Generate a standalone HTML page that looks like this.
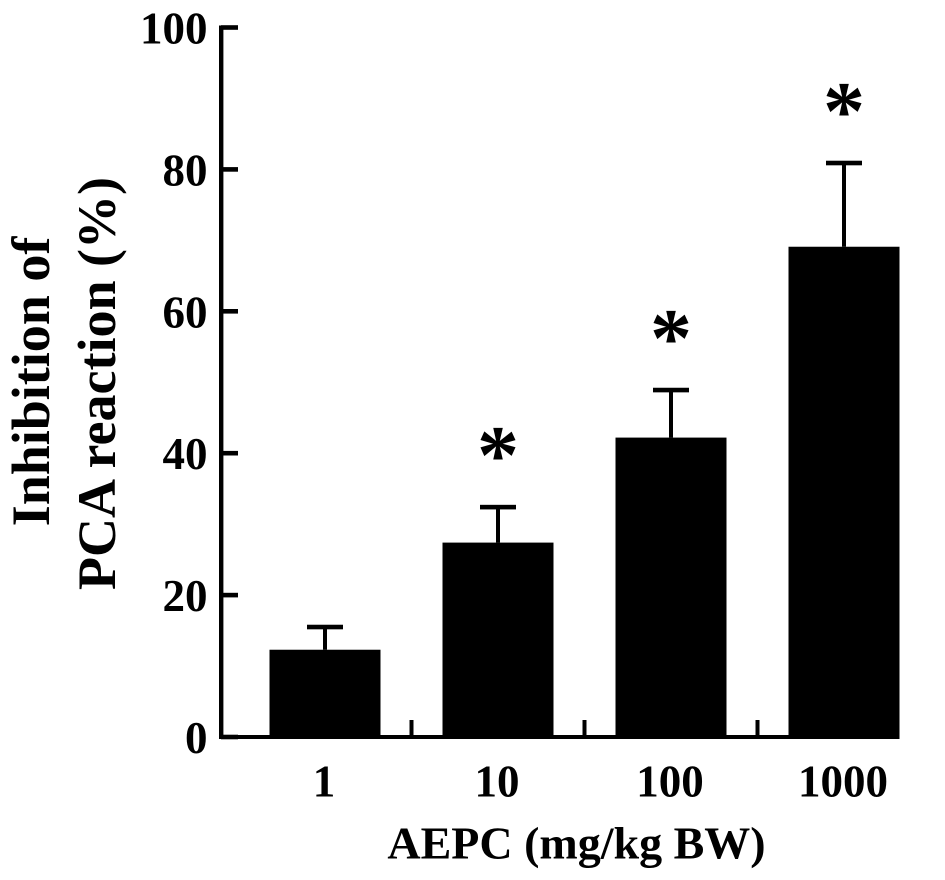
<!DOCTYPE html>
<html>
<head>
<meta charset="utf-8">
<style>
html,body{margin:0;padding:0;background:#fff;}
svg{display:block;}
text{font-family:"Liberation Serif",serif;font-weight:bold;fill:#000;}
</style>
</head>
<body>
<svg id="chart" width="945" height="880" viewBox="0 0 945 880" xmlns="http://www.w3.org/2000/svg">
<text transform="translate(49,381.5) rotate(-90)" text-anchor="middle" font-size="54">Inhibition of</text>
<text transform="translate(115,383.5) rotate(-90)" text-anchor="middle" font-size="54">PCA reaction (%)</text>
<text x="576.5" y="858.5" text-anchor="middle" font-size="46">AEPC (mg/kg BW)</text>
</svg>
<script>
const categories = ['1', '10', '100', '1000'];
const means = [12.3, 27.4, 42.2, 69.1];
const errorTops = [15.5, 32.4, 48.9, 80.9];
const significant = [false, true, true, true];
const yTickLabels = [0, 20, 40, 60, 80, 100];

const svg = document.getElementById('chart');
const NS = 'http://www.w3.org/2000/svg';
const yScale = v => 737 - v * 7.095;
const xBand = i => 238.5 + i * 173;
const xCenter = i => xBand(i) + 86.5;

function rect(parent, x, y, w, h) {
  const r = document.createElementNS(NS, 'rect');
  r.setAttribute('x', x);
  r.setAttribute('y', y);
  r.setAttribute('width', w);
  r.setAttribute('height', h);
  r.setAttribute('fill', '#000');
  parent.appendChild(r);
  return r;
}
function label(parent, x, y, size, str) {
  const t = document.createElementNS(NS, 'text');
  t.setAttribute('x', x);
  t.setAttribute('y', y);
  t.setAttribute('font-size', size);
  t.textContent = str;
  parent.appendChild(t);
  return t;
}

categories.forEach((cat, i) => {
  const cx = xCenter(i);
  const errStem = rect(svg, cx - 2, yScale(errorTops[i]), 4, yScale(means[i]) - yScale(errorTops[i]));
  
  
  const errCap = rect(svg, cx - 18, yScale(errorTops[i]) - 2.3, 36, 4.6);
  
  
  const bar = rect(svg, cx - 55.5, yScale(means[i]), 111, 737 - yScale(means[i]) + 2);
  
  
  const catLabel = label(svg, cx - 1, 796.5, 45, cat);
  catLabel.setAttribute('text-anchor', 'middle');
  
  
  if (significant[i]) {
    const star = label(svg, cx, yScale(errorTops[i]) - 24, 84, '*');
    star.setAttribute('text-anchor', 'middle');
    
    
  }
  if (i > 0) {
    const xt = rect(svg, xBand(i) - 2, 720, 4, 17);
    
    
  }
});

const yAxis = rect(svg, 219, 25.5, 4.4, 713.5);


const xAxis = rect(svg, 219, 735, 680, 4);



yTickLabels.forEach(v => {
  const y = yScale(v);
  const tick = rect(svg, 221, y - 2.3, 17, 4.6);
  
  
  const t = label(svg, 207.5, y + 16, 45, String(v));
  t.setAttribute('text-anchor', 'end');
  
  
});
</script>
</body>
</html>
